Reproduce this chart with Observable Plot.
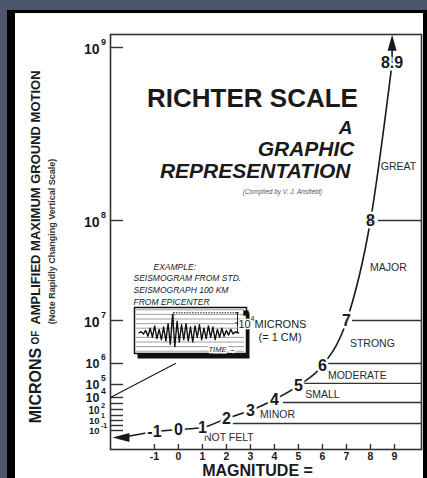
<!DOCTYPE html>
<html><head><meta charset="utf-8">
<script src="https://cdn.jsdelivr.net/npm/d3@7"></script>
<script src="https://cdn.jsdelivr.net/npm/@observablehq/plot@0.6"></script>
<style>
html,body{margin:0;padding:0;background:#4c566a;width:427px;height:478px;overflow:hidden;}
#card{position:absolute;left:7px;top:10px;width:408px;height:470px;background:#fff;border-left:8px solid #000;border-top:3px solid #000;border-right:4px solid #000;}
#main{position:absolute;left:0;top:0;}
#inset{position:absolute;left:115px;top:245px;}
</style></head>
<body><div id="card"><div id="main"></div><div id="inset"></div></div>
<script>
// ---- data ----
const magnitudes = [-1, 0, 1, 2, 3, 4, 5, 6, 7, 8, 8.9];
const magnitudeLabels = ["-1", "0", "1", "2", "3", "4", "5", "6", "7", "8", "8.9"];
// log10(microns) read against the vertical axis for each magnitude on the curve
const curveExp = [-2.2, -1.8, -1.4, 0.4, 1.83, 3.67, 4.92, 5.9, 6.98, 8, 8.91];
const tailMag = [-1, -2.375];
const tailExp = [-2.2, -3.47];
const topMag = [8.9, 8.9];
const topExp = [8.91, 9.03];

const bandNames = ["NOT FELT", "MINOR", "SMALL", "MODERATE", "STRONG", "MAJOR", "GREAT"];
const bandLabelMag = [2.1, 4.125, 6.0, 7.45, 8.08, 8.75, 9.17];
const bandLabelExp = [-3.6, 1.17, 4.23, 5.42, 6.47, 7.53, 8.31];
const boundaryExp = [-0.6, 3.17, 5.05, 6, 7, 8];
const boundaryStartMag = [1.75, 4.375, 5.2, 6.125, 7.25, 8.33];

const xTicks = [-1, 0, 1, 2, 3, 4, 5, 6, 7, 8, 9];
const yTickExp = [9, 8, 7, 6, 5, 4, 3, 2, 1, 0, -1, -2];
const yLabelExp = [9, 8, 7, 6, 5, 4, 2, 1, -1];
const yLabelSup = ["9", "8", "7", "6", "5", "4", "2", "1", "-1"];
// the "rapidly changing vertical scale": piecewise mapping exponent -> pixel
const yScaleExp = [-6, -2, -1, 0, 1, 2, 3, 4, 5, 6, 7, 8, 9, 9.08];
const yScalePx = [436, 417, 412, 407, 402, 396, 390, 384, 371, 350, 307, 207, 34, 21];
const xDomain = [-2.83, 10.125];

const calloutMag = [-0.125, -2.83];
const calloutExp = [6, 4];

// seismogram inset
const traceTime = [4,6,8,10,12,14,16,18,20,22,24,26,28,30,32,34,36,38,40,42,44,46,48,50,52,54,56,58,60,62,64,66,68,70,72,74,76,78,80,82,84,86,88,90,93];
const traceAmp = [0,0.5,-0.5,1,-1.5,2,-2,3,-2.5,1.5,-3,2.5,-3.5,4,-5,8,-6,5,-4,3.5,-3,4,-3.5,2.5,-4,3,-2,3.5,-3,2,-2.5,3,-2,2.5,-3,1.5,-2,2,-1.5,1,-1,1.5,-0.5,0.5,0];
const paperLines = [-8, -6, -4, -2, 2, 4, 6, 8, 10];
const calibStart = 35, calibEnd = 92, calibTop = 8.7;

// ---- build tables ----
const curve = magnitudes.map((m, i) => ({m, e: curveExp[i], label: magnitudeLabels[i]}));
const tail = tailMag.map((m, i) => ({m, e: tailExp[i]}));
const stem = topMag.map((m, i) => ({m, e: topExp[i]}));
const bands = bandNames.map((name, i) => ({name, m: bandLabelMag[i], e: bandLabelExp[i]}));
const bounds = boundaryExp.map((e, i) => ({e, m: boundaryStartMag[i]}));
const yLabels = yLabelExp.map((e, i) => ({e, sup: yLabelSup[i]}));
const yUpper = yLabels.filter(d => d.e >= 7);
const yMid = yLabels.filter(d => d.e < 7 && d.e >= 4);
const yLow2 = yLabels.filter(d => d.e < 4 && d.e >= 2);
const yLow = yLabels.filter(d => d.e < 2);
const callout = calloutMag.map((m, i) => ({m, e: calloutExp[i]}));
const trace = traceTime.map((t, i) => ({t, a: traceAmp[i]}));

const SANS = "'Liberation Sans', Arial, Helvetica, sans-serif";
const NARROW = "'Liberation Sans Narrow', 'Arial Narrow', 'Liberation Sans', Arial, sans-serif";
const INK = "#1a1a1a";

const headUp = {draw(ctx) { ctx.moveTo(0, -8); ctx.lineTo(4.5, 8); ctx.lineTo(-4.5, 8); ctx.closePath(); }};
const headLeft = {draw(ctx) { ctx.moveTo(-9, 0); ctx.lineTo(8, -4.5); ctx.lineTo(8, 4.5); ctx.closePath(); }};

const halo = {stroke: "white", strokeWidth: 5, paintOrder: "stroke", strokeLinejoin: "round"};
const fmt = d => d < 0 ? "-" + Math.abs(d) : String(d);

function tenLabels(data, size, supSize, dy) {
  return [
    Plot.text(data, {y: "e", frameAnchor: "left", text: () => "10", textAnchor: "end", dx: -11, dy: dy, fontSize: size, fontWeight: "bold", fill: INK}),
    Plot.text(data, {y: "e", frameAnchor: "left", text: "sup", textAnchor: "start", dx: -9.5, dy: dy - size * 0.5, fontSize: supSize, fontWeight: "bold", fill: INK})
  ];
}

const main = Plot.plot({
  width: 408, height: 465,
  marginLeft: 95, marginRight: 2, marginTop: 21, marginBottom: 29,
  x: {domain: xDomain},
  y: {type: "linear", domain: yScaleExp, range: yScalePx, axis: null},
  style: {background: "transparent", fontFamily: SANS, color: INK, overflow: "visible"},
  marks: [
    Plot.frame({stroke: "#333", strokeWidth: 1.6}),
    Plot.tickY(yTickExp, {y: d => d, insetRight: 298, stroke: "#333", strokeWidth: 1.4}),
    Plot.tickX(xTicks, {x: d => d, insetTop: 410, stroke: "#333", strokeWidth: 1.4}),
    Plot.axisX({ticks: xTicks, tickSize: 0, tickPadding: 3, fontSize: 10.5, fontWeight: "bold", tickFormat: fmt, label: null}),
    // y tick labels 10^n
    ...tenLabels(yUpper, 14, 9, 2),
    ...tenLabels(yMid, 12.5, 8.5, 0),
    ...tenLabels(yLow2, 10, 7.5, 1),
    ...tenLabels(yLow, 9.5, 7, 5),
    // category boundaries
    Plot.ruleY(bounds, {y: "e", x1: "m", x2: () => xDomain[1], stroke: "#333", strokeWidth: 1.3}),
    Plot.text(bands, {x: "m", y: "e", text: "name", fontSize: 10.5, fontFamily: NARROW, fill: "#2a2a2a"}),
    // callout from seismogram to the 10^4 level
    Plot.line(callout, {x: "m", y: "e", stroke: INK, strokeWidth: 1.2}),
    // magnitude curve
    Plot.line(tail, {x: "m", y: "e", stroke: INK, strokeWidth: 1.6}),
    Plot.line(stem, {x: "m", y: "e", stroke: INK, strokeWidth: 1.6}),
    Plot.line(curve, {x: "m", y: "e", curve: "monotone-x", stroke: INK, strokeWidth: 1.6}),
    Plot.dot(tail.slice(-1), {x: "m", y: "e", symbol: headLeft, fill: INK, stroke: "none"}),
    Plot.dot(stem.slice(-1), {x: "m", y: "e", symbol: headUp, fill: INK, stroke: "none"}),
    Plot.text(curve, {x: "m", y: "e", text: "label", fontSize: 16, fontWeight: "bold", fill: INK, ...halo}),
    // titles
    Plot.text(["RICHTER SCALE"], {text: d => d, frameAnchor: "top-left", dx: 142, dy: 72, textAnchor: "middle", lineAnchor: "bottom", fontSize: 26, fontWeight: "bold", fill: INK}),
    Plot.text(["A"], {text: d => d, frameAnchor: "top-left", dx: 242, dy: 99, textAnchor: "end", lineAnchor: "bottom", fontSize: 19, fontWeight: "bold", fontStyle: "italic", fill: INK}),
    Plot.text(["GRAPHIC"], {text: d => d, frameAnchor: "top-left", dx: 244, dy: 121, textAnchor: "end", lineAnchor: "bottom", fontSize: 21, fontWeight: "bold", fontStyle: "italic", fill: INK}),
    Plot.text(["REPRESENTATION"], {text: d => d, frameAnchor: "top-left", dx: 240, dy: 143, textAnchor: "end", lineAnchor: "bottom", fontSize: 21, fontWeight: "bold", fontStyle: "italic", fill: INK}),
    Plot.text(["(Compiled by V. J. Ansfield)"], {text: d => d, frameAnchor: "top-left", dx: 172, dy: 159, textAnchor: "middle", lineAnchor: "bottom", fontSize: 6.5, fontStyle: "italic", fill: "#555"}),
    // axis titles
    Plot.text(["MAGNITUDE ="], {text: d => d, frameAnchor: "top-left", dx: 147, dy: 441, textAnchor: "middle", lineAnchor: "bottom", fontSize: 16, fontWeight: "bold", fill: INK}),
    Plot.text(["MICRONS"], {text: d => d, frameAnchor: "top-left", dx: -75, dy: 351, rotate: -90, textAnchor: "middle", lineAnchor: "middle", fontSize: 16, fontWeight: "bold", fill: INK}),
    Plot.text(["OF"], {text: d => d, frameAnchor: "top-left", dx: -75, dy: 303, rotate: -90, textAnchor: "middle", lineAnchor: "middle", fontSize: 10, fontWeight: "bold", fill: INK}),
    Plot.text(["AMPLIFIED MAXIMUM GROUND MOTION"], {text: d => d, frameAnchor: "top-left", dx: -75, dy: 163, rotate: -90, textAnchor: "middle", lineAnchor: "middle", fontSize: 13, fontWeight: "bold", fill: INK}),
    Plot.text(["(Note Rapidly Changing Vertical Scale)"], {text: d => d, frameAnchor: "top-left", dx: -58, dy: 207, rotate: -90, textAnchor: "middle", lineAnchor: "middle", fontSize: 9, fontWeight: "bold", fill: "#333"})
  ]
});
document.getElementById("main").append(main);

const inset = Plot.plot({
  width: 182, height: 104,
  marginLeft: 4, marginRight: 66, marginTop: 49, marginBottom: 9,
  x: {domain: [0, 100], axis: null},
  y: {domain: [-9, 11], axis: null},
  style: {background: "transparent", fontFamily: SANS, color: INK, overflow: "visible"},
  marks: [
    Plot.frame({fill: "#111", dx: 3, dy: 5}),
    Plot.frame({fill: "white", stroke: "#111", strokeWidth: 1.5}),
    Plot.ruleY(paperLines, {y: d => d, stroke: "#888", strokeWidth: 0.8, insetLeft: 2, insetRight: 2}),
    Plot.ruleY([calibTop], {y: d => d, x1: () => calibStart, x2: () => calibEnd, stroke: INK, strokeWidth: 1, strokeDasharray: "1.5,1.2"}),
    Plot.ruleX([calibStart], {x: d => d, y1: () => calibTop - 4, y2: () => calibTop, stroke: INK, strokeWidth: 0.8, strokeDasharray: "1.5,1.2"}),
    Plot.ruleX([calibEnd], {x: d => d, y1: () => 0, y2: () => calibTop, stroke: INK, strokeWidth: 1}),
    Plot.ruleY([0, calibTop / 2, calibTop], {y: d => d, x1: () => calibEnd - 1.5, x2: () => calibEnd + 1.5, stroke: INK, strokeWidth: 1}),
    Plot.line(trace, {x: "t", y: "a", stroke: "#111", strokeWidth: 1.4}),
    Plot.dot([{t: 99.5, a: 8.6}], {x: "t", y: "a", symbol: "square", r: 3, fill: "#111"}),
    Plot.text(["TIME \u2192"], {text: d => d, frameAnchor: "top-left", dx: 74, dy: 42, lineAnchor: "middle", textAnchor: "start", fontSize: 7.5, fontStyle: "italic", fontFamily: NARROW, fill: INK, stroke: "white", strokeWidth: 3, paintOrder: "stroke"}),
    Plot.text(["EXAMPLE:"], {text: d => d, frameAnchor: "top-left", dx: 19, dy: -40, lineAnchor: "middle", textAnchor: "start", fontSize: 8.5, fontStyle: "italic", fontFamily: NARROW, fill: INK}),
    Plot.text(["SEISMOGRAM FROM STD."], {text: d => d, frameAnchor: "top-left", dx: -1, dy: -29, lineAnchor: "middle", textAnchor: "start", fontSize: 8.5, fontStyle: "italic", fontFamily: NARROW, fill: INK}),
    Plot.text(["SEISMOGRAPH 100 KM"], {text: d => d, frameAnchor: "top-left", dx: -1, dy: -17, lineAnchor: "middle", textAnchor: "start", fontSize: 8.5, fontStyle: "italic", fontFamily: NARROW, fill: INK}),
    Plot.text(["FROM EPICENTER"], {text: d => d, frameAnchor: "top-left", dx: -1, dy: -5, lineAnchor: "middle", textAnchor: "start", fontSize: 8.5, fontStyle: "italic", fontFamily: NARROW, fill: INK}),
    Plot.text(["10"], {text: d => d, frameAnchor: "top-left", dx: 104, dy: 17, lineAnchor: "middle", textAnchor: "start", fontSize: 11, fontFamily: SANS, fill: INK, stroke: "white", strokeWidth: 3, paintOrder: "stroke"}),
    Plot.text(["4"], {text: d => d, frameAnchor: "top-left", dx: 116, dy: 11, lineAnchor: "middle", textAnchor: "start", fontSize: 7, fontFamily: SANS, fill: INK}),
    Plot.text(["MICRONS"], {text: d => d, frameAnchor: "top-left", dx: 120, dy: 17, lineAnchor: "middle", textAnchor: "start", fontSize: 11, fontFamily: SANS, fill: INK}),
    Plot.text(["(= 1 CM)"], {text: d => d, frameAnchor: "top-left", dx: 124, dy: 30, lineAnchor: "middle", textAnchor: "start", fontSize: 11, fontFamily: SANS, fill: INK})
  ]
});
document.getElementById("inset").append(inset);
</script>
</body></html>
